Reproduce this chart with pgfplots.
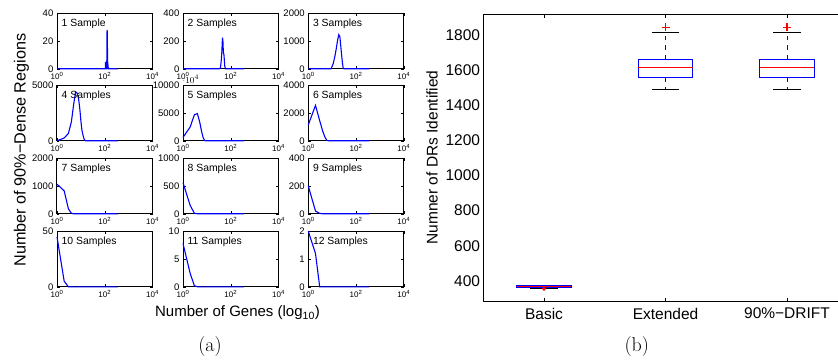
\documentclass[border=0pt]{standalone}
\usepackage{fontspec}
\setsansfont{Liberation Sans}
\usepackage{pgfplots}
\pgfplotsset{compat=1.18}
\usepgfplotslibrary{statistics}

\pgfplotsset{
  panel/.style={
    anchor=south west, scale only axis, width=95.5pt, height=55.5pt,
    xmin=1, xmax=10000, xtick={1,100,10000},
    xticklabels={10\textsuperscript{0},10\textsuperscript{2},10\textsuperscript{4}},
    xminorticks=false, ymin=0, clip=false,
    tick align=inside, major tick length=2.5pt,
    axis line style={line width=1pt},
    tick style={black, line width=0.5pt},
    xticklabel style={font=\sffamily\fontsize{8}{9}\selectfont, inner sep=0pt, yshift=-3.5pt},
    yticklabel style={font=\sffamily\fontsize{9.5}{11}\selectfont, inner sep=0pt, xshift=-3.5pt},
  },
  curve/.style={blue, line width=1.1pt, no marks},
}
\tikzset{
  ptitle/.style={anchor=base west, font=\sffamily\fontsize{10.4}{12}\selectfont, inner sep=0pt, xshift=4.5pt, yshift=-13pt},
}

\begin{document}
\begin{tikzpicture}
\path[clip] (0pt,0pt) rectangle (838pt,359pt);
\path[use as bounding box] (0pt,0pt) rectangle (838pt,359pt);

% ---------- row 1
\begin{semilogxaxis}[panel, at={(57pt,290.2pt)}, ymax=40, ytick={0,20,40}, yticklabels={0,20,40}]
\addplot[curve] coordinates {(1,0)(100,0)(106,0)(108,5)(111,0)(121,0)(125,28)(128,27)(132,0)(138,2)(142,0)(355,0)};
\node[ptitle] at (rel axis cs:0,1) {1 Sample};
\end{semilogxaxis}
\begin{semilogxaxis}[panel, at={(183pt,290.2pt)}, ymax=400, ytick={0,200,400}, yticklabels={0,200,400}]
\addplot[curve] coordinates {(1,0)(33,0)(37,5)(40,60)(42,110)(43,150)(45,225)(47,200)(49,120)(52,100)(56,20)(60,0)(355,0)};
\node[ptitle] at (rel axis cs:0,1) {2 Samples};
\end{semilogxaxis}
\begin{semilogxaxis}[panel, at={(308.3pt,290.2pt)}, ymax=2000, ytick={0,1000,2000}, yticklabels={0,1000,2000}]
\addplot[curve] coordinates {(1,0)(9,0)(11,180)(13,450)(15,750)(17,1050)(19,1230)(21,1150)(23,800)(25,480)(27,200)(29,20)(31,0)(355,0)};
\node[ptitle] at (rel axis cs:0,1) {3 Samples};
\end{semilogxaxis}
% ---------- row 2
\begin{semilogxaxis}[panel, at={(57pt,218.2pt)}, ymax=5000, ytick={0,5000}, yticklabels={0,5000}]
\addplot[curve] coordinates {(1,0)(2,250)(3,660)(4,1700)(5,3300)(6,4400)(7,4300)(8,3800)(9,2900)(10,1800)(11,1000)(12,600)(13,300)(14,100)(15,40)(16,0)(355,0)};
\node[ptitle] at (rel axis cs:0,1) {4 Samples};
\end{semilogxaxis}
\begin{semilogxaxis}[panel, at={(183pt,218.2pt)}, ymax=10000, ytick={0,5000,10000}, yticklabels={0,5000,10000}]
\addplot[curve] coordinates {(1,600)(2,2500)(3,4700)(4,4900)(5,3400)(6,1700)(7,550)(8,50)(9,0)(355,0)};
\node[ptitle] at (rel axis cs:0,1) {5 Samples};
\end{semilogxaxis}
\begin{semilogxaxis}[panel, at={(308.3pt,218.2pt)}, ymax=4000, ytick={0,2000,4000}, yticklabels={0,2000,4000}]
\addplot[curve] coordinates {(1,1150)(2,2550)(3,1450)(4,700)(5,250)(6,30)(7,0)(355,0)};
\node[ptitle] at (rel axis cs:0,1) {6 Samples};
\end{semilogxaxis}
% ---------- row 3
\begin{semilogxaxis}[panel, at={(57pt,145.2pt)}, ymax=2000, ytick={0,1000,2000}, yticklabels={0,1000,2000}]
\addplot[curve] coordinates {(1,1070)(2,825)(3,180)(4,20)(5,0)(355,0)};
\node[ptitle] at (rel axis cs:0,1) {7 Samples};
\end{semilogxaxis}
\begin{semilogxaxis}[panel, at={(183pt,145.2pt)}, ymax=1000, ytick={0,500,1000}, yticklabels={0,500,1000}]
\addplot[curve] coordinates {(1,560)(2,150)(3,10)(4,0)(355,0)};
\node[ptitle] at (rel axis cs:0,1) {8 Samples};
\end{semilogxaxis}
\begin{semilogxaxis}[panel, at={(308.3pt,145.2pt)}, ymax=400, ytick={0,200,400}, yticklabels={0,200,400}]
\addplot[curve] coordinates {(1,200)(2,20)(3,3)(4,0)(355,0)};
\node[ptitle] at (rel axis cs:0,1) {9 Samples};
\end{semilogxaxis}
% ---------- row 4
\begin{semilogxaxis}[panel, at={(57pt,72.2pt)}, ymax=50, ytick={0,50}, yticklabels={0,50}]
\addplot[curve] coordinates {(1,45)(2,5)(3,0)(355,0)};
\node[ptitle] at (rel axis cs:0,1) {10 Samples};
\end{semilogxaxis}
\begin{semilogxaxis}[panel, at={(183pt,72.2pt)}, ymax=10, ytick={0,5,10}, yticklabels={0,5,10}]
\addplot[curve] coordinates {(1,7.8)(2,2.4)(3,0.2)(4,0)(355,0)};
\node[ptitle] at (rel axis cs:0,1) {11 Samples};
\end{semilogxaxis}
\begin{semilogxaxis}[panel, at={(308.3pt,72.2pt)}, ymax=2, ytick={0,1,2}, yticklabels={0,1,2}]
\addplot[curve] coordinates {(1,2)(2,1.2)(3,0)(355,0)};
\node[ptitle] at (rel axis cs:0,1) {12 Samples};
\end{semilogxaxis}

\node[rotate=90, anchor=base, font=\sffamily\fontsize{16.2}{18}\selectfont, inner sep=0pt] at (25.5pt,209pt) {Number of 90\%−Dense Regions};
\node[anchor=base, font=\sffamily\fontsize{15}{18}\selectfont, inner sep=0pt] at (237.5pt,42.3pt) {Number of Genes (log\textsubscript{10})};

% ---------- box plot
\begin{axis}[
  anchor=south west, at={(483.25pt,57.3pt)},
  scale only axis, width=364.5pt, height=287.4pt,
  xmin=0.5, xmax=3.5, ymin=282, ymax=1916,
  xtick={1,2,3}, xticklabels={Basic,Extended,90\%−DRIFT},
  ytick={400,600,800,1000,1200,1400,1600,1800},
  yticklabels={400,600,800,1000,1200,1400,1600,1800},
  tick align=inside, major tick length=4pt,
  ytick style={draw=none},
  xtick style={black, line width=0.5pt},
  axis line style={line width=0.8pt},
  tick label style={font=\sffamily\fontsize{15.5}{18}\selectfont, inner sep=0pt},
  xticklabel style={yshift=-6pt},
  yticklabel style={xshift=-3pt},
  boxplot/draw direction=y,
  boxplot/box extend=0.45,
  boxplot/whisker extend=0.225,
  boxplot/draw/box/.code={%
    \draw[blue, line width=1pt]
      (boxplot box cs:\pgfplotsboxplotvalue{lower quartile},0) rectangle
      (boxplot box cs:\pgfplotsboxplotvalue{upper quartile},1);
  },
  boxplot/draw/median/.code={%
    \draw[red, line width=1.1pt]
      (boxplot box cs:\pgfplotsboxplotvalue{median},0) --
      (boxplot box cs:\pgfplotsboxplotvalue{median},1);
  },
  boxplot/draw/lower whisker/.code={%
    \draw[blue, line width=1pt, dash pattern=on 4.5pt off 5pt]
      (boxplot box cs:\pgfplotsboxplotvalue{lower quartile},0.5) --
      (boxplot box cs:\pgfplotsboxplotvalue{lower whisker},0.5);
    \draw[black, line width=0.9pt]
      (boxplot whisker cs:\pgfplotsboxplotvalue{lower whisker},0) --
      (boxplot whisker cs:\pgfplotsboxplotvalue{lower whisker},1);
  },
  boxplot/draw/upper whisker/.code={%
    \draw[blue, line width=1pt, dash pattern=on 4.5pt off 5pt]
      (boxplot box cs:\pgfplotsboxplotvalue{upper quartile},0.5) --
      (boxplot box cs:\pgfplotsboxplotvalue{upper whisker},0.5);
    \draw[black, line width=0.9pt]
      (boxplot whisker cs:\pgfplotsboxplotvalue{upper whisker},0) --
      (boxplot whisker cs:\pgfplotsboxplotvalue{upper whisker},1);
  },
]
\addplot[black, boxplot prepared={draw position=1, lower whisker=358, lower quartile=361,
    median=367, upper quartile=373, upper whisker=376}]
  coordinates {};
\addplot[black, boxplot prepared={draw position=2, lower whisker=1490, lower quartile=1554,
    median=1615, upper quartile=1660, upper whisker=1814}]
  coordinates {};
\addplot[black, boxplot prepared={draw position=3, lower whisker=1490, lower quartile=1554,
    median=1615, upper quartile=1660, upper whisker=1810}]
  coordinates {};
% outliers
\addplot[only marks, mark=+, mark size=4pt, mark options={draw=red, line width=1.1pt}]
  coordinates {(2,1842) (3,1842)};
\addplot[only marks, mark=*, mark size=1.8pt, mark options={draw=red, fill=red}]
  coordinates {(1,356)};
\end{axis}

\node[rotate=90, anchor=base, font=\sffamily\fontsize{15.5}{18}\selectfont, inner sep=0pt] at (437.5pt,201.5pt) {Numner of DRs Identified};

\node[anchor=base, font=\fontsize{20}{24}\selectfont, inner sep=0pt] at (210pt,7.3pt) {(a)};
\node[anchor=base, font=\fontsize{20}{24}\selectfont, inner sep=0pt] at (636.7pt,7.3pt) {(b)};
\end{tikzpicture}
\end{document}
